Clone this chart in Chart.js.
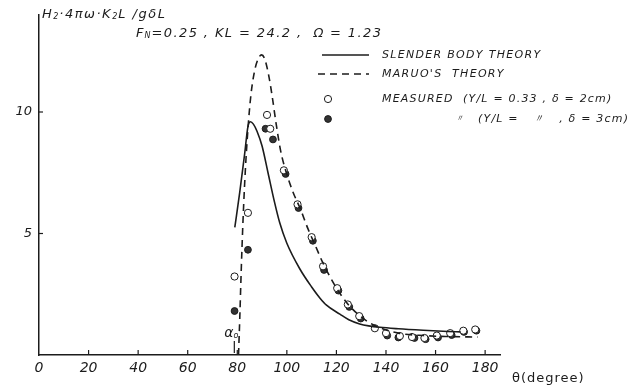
<!DOCTYPE html>
<html>
<head>
<meta charset="utf-8">
<script src="https://cdn.jsdelivr.net/npm/chart.js@4/dist/chart.umd.min.js"></script>
<style>
  html,body{margin:0;padding:0;background:#fff;}
  #c{display:block;}
</style>
</head>
<body>
<canvas id="c" width="634" height="389"></canvas>
<script>
// ---- data ----
const xTickValues = [0, 20, 40, 60, 80, 100, 120, 140, 160, 180];
const yTickValues = [5, 10];

const slenderTheta = [79.0, 81.0, 83.0, 84.3, 85.3, 86.5, 88.0, 90.0, 92.4, 95.0, 97.1, 100.0, 105.2, 110.0, 113.3, 116.0, 121.4, 125.0, 129.4, 133.0, 137.5, 145.0, 155.0, 165.0, 170.0];
const slenderH     = [5.25, 6.7, 8.3, 9.4, 9.6, 9.5, 9.2, 8.6, 7.5, 6.3, 5.45, 4.6, 3.55, 2.8, 2.35, 2.05, 1.68, 1.45, 1.28, 1.2, 1.14, 1.08, 1.02, 0.97, 0.95];

const maruoTheta = [80.5, 81.0, 81.6, 82.3, 83.2, 84.3, 85.5, 87.0, 88.5, 89.8, 91.0, 92.5, 94.0, 95.7, 97.5, 99.8, 102.5, 105.5, 108.5, 111.5, 114.5, 117.5, 121.0, 125.0, 129.0, 133.0, 138.0, 145.0, 155.0, 165.0, 177.0];
const maruoH     = [0.0, 1.5, 3.5, 5.5, 7.5, 9.3, 10.7, 11.7, 12.2, 12.35, 12.2, 11.6, 10.7, 9.5, 8.4, 7.5, 6.7, 6.0, 5.2, 4.5, 3.8, 3.2, 2.6, 2.05, 1.65, 1.35, 1.1, 0.9, 0.8, 0.76, 0.74];

const measured2Theta = [78.9, 84.3, 92.0, 93.3, 98.8, 104.3, 110.0, 114.6, 120.3, 124.6, 129.2, 135.5, 140.0, 145.6, 150.5, 155.5, 160.5, 165.9, 171.2, 176.0];
const measured2H     = [3.23, 5.85, 9.88, 9.31, 7.6, 6.2, 4.85, 3.65, 2.75, 2.08, 1.6, 1.1, 0.9, 0.78, 0.74, 0.7, 0.8, 0.9, 1.0, 1.05];

const measured3Theta = [78.9, 84.3, 91.4, 94.4, 99.5, 104.7, 110.5, 115.0, 120.8, 125.2, 129.8, 140.5, 145.0, 151.5, 156.0, 161.0, 166.5, 171.5, 176.5];
const measured3H     = [1.81, 4.33, 9.31, 8.87, 7.45, 6.05, 4.7, 3.5, 2.65, 1.98, 1.5, 0.8, 0.72, 0.7, 0.65, 0.72, 0.82, 0.95, 1.0];

const alpha0Theta = 78;

const seriesLabels = ["SLENDER BODY THEORY", "MARUO'S  THEORY", "MEASURED (Y/L=0.33, δ=2cm)", "(Y/L= 〃 , δ=3cm)"];

// ---- helpers ----
const zip = (xs, ys) => xs.map((x, i) => ({x: x, y: ys[i]}));
const INK = '#1c1c1c';
const FONT = '"DejaVu Sans", sans-serif';

function seg(ctx, parts, x, y) {
  // parts: [text, size, dy, spacing]
  let cx = x;
  ctx.textBaseline = 'middle';
  ctx.textAlign = 'left';
  ctx.fillStyle = INK;
  for (const p of parts) {
    const [t, size, dy, sp] = p;
    ctx.font = 'italic ' + size + 'px ' + FONT;
    ctx.letterSpacing = (sp === undefined ? 1 : sp) + 'px';
    ctx.fillText(t, cx, y + (dy || 0));
    cx += ctx.measureText(t).width;
  }
  ctx.letterSpacing = '0px';
}

const annotations = {
  id: 'annotations',
  afterDraw(chart) {
    const ctx = chart.ctx;
    const xs = chart.scales.x, ys = chart.scales.y;
    const area = chart.chartArea;
    ctx.save();
    ctx.strokeStyle = INK;
    ctx.lineWidth = 1.2;
    // inward ticks on x axis
    xTickValues.forEach(v => {
      if (v === 0) return;
      const px = xs.getPixelForValue(v);
      ctx.beginPath(); ctx.moveTo(px, area.bottom); ctx.lineTo(px, area.bottom - 5); ctx.stroke();
    });
    // inward ticks on y axis
    yTickValues.forEach(v => {
      const py = ys.getPixelForValue(v);
      ctx.beginPath(); ctx.moveTo(area.left, py); ctx.lineTo(area.left + 4, py); ctx.stroke();
    });
    // alpha0 marker
    const ax = xs.getPixelForValue(alpha0Theta);
    ctx.beginPath(); ctx.moveTo(ax + 2, area.bottom - 14); ctx.lineTo(ax + 2, area.bottom - 2); ctx.stroke();
    seg(ctx, [['α', 14, 0, 0], ['o', 8, 3, 0]], ax - 8, area.bottom - 22);

    // title texts
    seg(ctx, [['H', 13, 0, 1.5], ['2', 8, 2], ['·4πω·K', 13, 0, 1.5], ['2', 8, 2], ['L /gδL', 13, 0, 1.5]], 42, 15);
    seg(ctx, [['F', 13], ['N', 8, 2], ['=0.25 , KL = 24.2 ,  ', 13, 0, 1.4], ['Ω', 13], [' = 1.23', 13, 0, 1.4]], 136, 34);

    // legend
    const lx0 = 318, lx1 = 369, tx = 382;
    const d0 = chart.data.datasets[0], d1 = chart.data.datasets[1], d2 = chart.data.datasets[2], d3 = chart.data.datasets[3];
    ctx.lineWidth = d0.borderWidth; ctx.strokeStyle = d0.borderColor; ctx.setLineDash([]);
    ctx.beginPath(); ctx.moveTo(lx0 + 4, 55); ctx.lineTo(lx1, 55); ctx.stroke();
    ctx.lineWidth = d1.borderWidth; ctx.strokeStyle = d1.borderColor; ctx.setLineDash(d1.borderDash);
    ctx.beginPath(); ctx.moveTo(lx0, 74); ctx.lineTo(lx1, 74); ctx.stroke();
    ctx.setLineDash([]);
    ctx.lineWidth = d2.borderWidth; ctx.strokeStyle = d2.borderColor; ctx.fillStyle = d2.backgroundColor;
    ctx.beginPath(); ctx.arc(328, 99, d2.pointRadius, 0, Math.PI * 2); ctx.fill(); ctx.stroke();
    ctx.lineWidth = d3.borderWidth; ctx.strokeStyle = d3.borderColor; ctx.fillStyle = d3.backgroundColor;
    ctx.beginPath(); ctx.arc(328, 119, d3.pointRadius, 0, Math.PI * 2); ctx.fill(); ctx.stroke();

    seg(ctx, [[seriesLabels[0], 11, 0, 1.3]], tx, 55);
    seg(ctx, [[seriesLabels[1], 11, 0, 1.3]], tx, 74);
    seg(ctx, [['MEASURED  (Y/L = 0.33 , δ = 2cm)', 11, 0, 1.2]], tx, 99);
    seg(ctx, [['〃', 9, 0, 0]], 455, 119);
    seg(ctx, [['(Y/L =   〃   , δ = 3cm)', 11, 0, 1.2]], 478, 119);

    // axis title
    ctx.font = '13px ' + FONT;
    ctx.letterSpacing = '1px';
    ctx.fillStyle = INK;
    ctx.textBaseline = 'middle';
    ctx.fillText('θ(degree)', 512, 379);
    ctx.letterSpacing = '0px';
    ctx.restore();
  }
};

new Chart(document.getElementById('c'), {
  type: 'scatter',
  data: {
    datasets: [
      {label: seriesLabels[0], data: zip(slenderTheta, slenderH), showLine: true, borderColor: INK, borderWidth: 1.6,
       pointRadius: 0, cubicInterpolationMode: 'monotone', fill: false},
      {label: seriesLabels[1], data: zip(maruoTheta, maruoH), showLine: true, borderColor: INK, borderWidth: 1.6,
       borderDash: [7, 5], pointRadius: 0, cubicInterpolationMode: 'monotone', fill: false},
      {label: seriesLabels[2], data: zip(measured2Theta, measured2H), showLine: false, borderColor: INK, borderWidth: 1,
       backgroundColor: '#ffffff', pointRadius: 3.6, pointHoverRadius: 3.6},
      {label: seriesLabels[3], data: zip(measured3Theta, measured3H), showLine: false, borderColor: INK, borderWidth: 1,
       backgroundColor: '#333333', pointRadius: 3.4, pointHoverRadius: 3.4}
    ]
  },
  options: {
    responsive: false,
    animation: false,
    events: [],
    layout: {padding: {left: 0, right: 134, top: 8, bottom: 0}},
    plugins: {legend: {display: false}, tooltip: {enabled: false}, title: {display: false}},
    scales: {
      x: {
        type: 'linear', min: 0, max: 186,
        afterBuildTicks: s => { s.ticks = xTickValues.map(v => ({value: v})); },
        afterFit: s => { s.height = 34; },
        grid: {display: false, drawTicks: false},
        border: {display: true, color: INK, width: 1.5},
        ticks: {color: INK, padding: 5, maxRotation: 0, autoSkip: false,
                font: {family: FONT, size: 14, style: 'italic'}, callback: v => String(v)}
      },
      y: {
        type: 'linear', min: 0, max: 14,
        afterBuildTicks: s => { s.ticks = yTickValues.map(v => ({value: v})); },
        afterFit: s => { s.width = 39; },
        grid: {display: false, drawTicks: false},
        border: {display: true, color: INK, width: 1.5},
        ticks: {color: INK, padding: 7, font: {family: FONT, size: 13, style: 'italic'}, callback: v => String(v)}
      }
    }
  },
  plugins: [annotations]
});
</script>
</body>
</html>
